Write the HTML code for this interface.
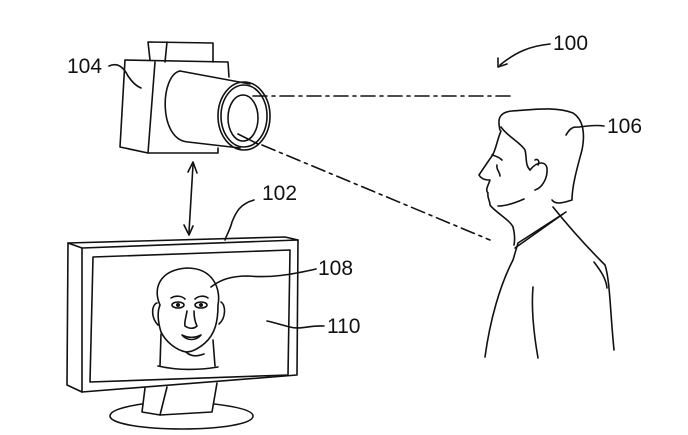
<!DOCTYPE html>
<html><head><meta charset="utf-8"><style>
html,body{margin:0;padding:0;background:#fff;}
svg{display:block;}
text{font-family:"Liberation Sans",sans-serif;font-size:21px;fill:#111;stroke:none;}
</style></head><body>
<svg width="688" height="435" viewBox="0 0 688 435" xmlns="http://www.w3.org/2000/svg" fill="none" stroke="#111" stroke-width="1.6" stroke-linejoin="round" stroke-linecap="round">
<!-- camera -->
<path d="M150,60 L148,42 L213,43 L213,62"/>
<path d="M167,42 L165,62"/>
<path d="M125,60 L228,62 L229,77"/>
<path d="M125,60 L120,147 L148,153 L155,62"/>
<path d="M148,153 L218,153 L218,148"/>
<path d="M180,71 C160,75 158,140 188,142 L240,148"/>
<path d="M180,71 L250,84"/>
<ellipse cx="244" cy="116" rx="26" ry="34"/>
<ellipse cx="244" cy="116" rx="23" ry="31"/>
<ellipse cx="243" cy="118" rx="15" ry="23"/>
<path d="M238,134 L258,144"/>
<!-- sight lines -->
<path d="M253,96 L510,96" stroke-dasharray="14,5,3,5"/>
<path d="M262,145 L490,240" stroke-dasharray="14,5,3,5"/>
<!-- double arrow -->
<path d="M193,165 L189,232"/>
<path d="M188,172 L193,162 L197,173"/>
<path d="M184,225 L189,235 L193,226"/>
<!-- labels -->
<text x="67" y="73">104</text>
<path d="M109,66 C118,62 124,68 128,76 C132,82 136,86 141,88"/>
<text x="262" y="200">102</text>
<path d="M254,200 C240,204 236,212 232,222 C230,230 227,234 225,240"/>
<text x="318" y="275">108</text>
<path d="M316,269 C290,275 270,278 248,276 C230,276 220,280 211,287"/>
<text x="327" y="333">110</text>
<path d="M324,326 C310,325 300,330 290,327 C282,325 276,323 267,321"/>
<text x="553" y="50">100</text>
<path d="M550,44 C530,46 516,52 500,65"/>
<path d="M498,58 L498,67 L507,64"/>
<text x="607" y="133">106</text>
<path d="M604,126 C590,124 580,128 575,127 C570,128 568,132 566,135"/>
<!-- monitor -->
<path d="M82,248 L68,243 L67,385 L82,392"/>
<path d="M68,243 L285,237 L298,240"/>
<path d="M82,248 L298,240 L297,375 L82,392 Z"/>
<path d="M93,257 L290,250 L288,375 L90,382 Z"/>
<path d="M145,388 L142,412 L160,415 L212,412 L217,383"/>
<path d="M167,387 L160,415"/>
<path d="M142,404 C122,407 110,411 110,416 C110,424 145,429 182,429 C220,429 253,424 253,416 C253,411 240,407 214,404"/>
<!-- face on screen -->
<path d="M160,305 C153,290 158,270 187,268 C214,268 221,290 218,305 C218,322 215,334 205,343 C198,349 191,352 186,352 C176,350 166,342 161,332 C158,322 157,312 160,305 Z"/>
<path d="M157,303 C151,305 151,318 158,325"/>
<path d="M221,302 C226,305 226,318 219,324"/>
<path d="M161,334 L160,366"/>
<path d="M213,340 L215,366"/>
<path d="M158,366 C180,371 200,370 218,367"/>
<path d="M186,352 C190,356 196,357 204,354"/>
<ellipse cx="178" cy="305" rx="6" ry="3"/>
<ellipse cx="201" cy="305" rx="6" ry="3"/>
<circle cx="178" cy="305" r="1.2" fill="#111"/>
<circle cx="201" cy="305" r="1.2" fill="#111"/>
<path d="M171,298 C176,295 182,296 185,299"/>
<path d="M195,299 C198,296 204,295 208,298"/>
<path d="M187,311 C186,318 184,322 185,326 C189,329 194,329 197,326 C195,322 194,318 194,311"/>
<path d="M182,335 C188,338 195,338 201,335 C196,341 187,341 182,335 Z"/>
<!-- person -->
<path d="M500,130 C497,118 500,112 512,111 C530,110 555,106 573,113 C584,120 585,135 582,150 C578,165 572,185 572,200 C560,204 555,204 552,200"/>
<path d="M501,127 C508,137 520,142 525,150 C527,158 525,165 530,170"/>
<path d="M530,170 C538,160 546,162 547,168 C548,178 542,188 535,190"/>
<path d="M535,160 C538,158 540,162 538,165"/>
<path d="M501,131 C497,140 496,150 492,156 C489,160 485,166 479,175 C482,180 487,180 490,180 C488,186 485,190 488,193 C487,198 490,200 490,205 C495,212 510,220 513,227 C515,235 515,240 514,245"/>
<path d="M492,155 C496,156 500,158 502,160"/>
<path d="M497,165 C496,170 500,172 500,176"/>
<path d="M498,206 C505,206 515,203 524,199"/>
<path d="M553,207 C565,222 585,245 605,265 C610,280 610,310 614,350"/>
<path d="M566,212 L518,243 L513,260 C500,285 490,320 485,357"/>
<path d="M563,214 L515,248"/>
<path d="M594,262 C600,270 606,278 607,288"/>
<path d="M533,287 C531,310 534,335 538,358"/>
</svg>
</body></html>
